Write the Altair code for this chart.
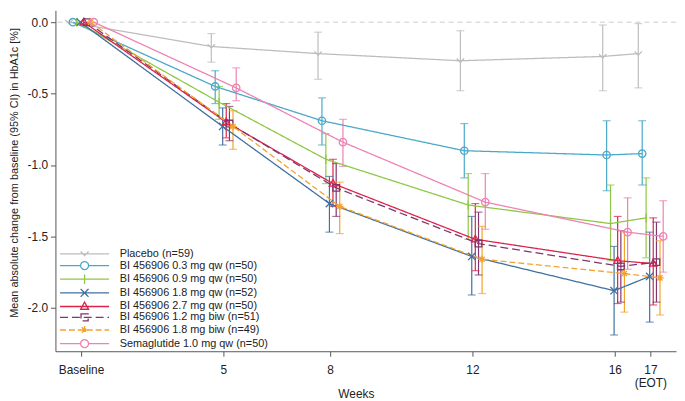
import json
import altair as alt
import pandas as pd

# ---------------- data ----------------
groups = [
    "Placebo (n=59)",
    "BI 456906 0.3 mg qw (n=50)",
    "BI 456906 0.9 mg qw (n=50)",
    "BI 456906 1.8 mg qw (n=52)",
    "BI 456906 2.7 mg qw (n=50)",
    "BI 456906 1.2 mg biw (n=51)",
    "BI 456906 1.8 mg biw (n=49)",
    "Semaglutide 1.0 mg qw (n=50)",
]
week_values = [1, 5, 8, 12, 16, 17]          # baseline shown at position 1 on the axis
week_labels = ["Baseline", "5", "8", "12", "16", "17\n(EOT)"]

placebo_mean = [0.0, -0.17, -0.22, -0.27, -0.24, -0.22]
placebo_lo = [None, -0.28, -0.40, -0.48, -0.48, -0.46]
placebo_hi = [None, -0.08, -0.07, -0.06, -0.02, -0.01]

q03_mean = [0.0, -0.45, -0.69, -0.90, -0.93, -0.92]
q03_lo = [None, -0.57, -0.86, -1.09, -1.18, -1.14]
q03_hi = [None, -0.34, -0.53, -0.71, -0.69, -0.69]

q09_mean = [0.0, -0.56, -0.96, -1.28, -1.41, -1.37]
q09_lo = [None, -0.68, -1.13, -1.52, -1.67, -1.65]
q09_hi = [None, -0.45, -0.78, -1.06, -1.14, -1.09]

q18_mean = [0.0, -0.73, -1.27, -1.64, -1.88, -1.78]
q18_lo = [None, -0.86, -1.47, -1.91, -2.19, -2.10]
q18_hi = [None, -0.60, -1.08, -1.36, -1.57, -1.47]

q27_mean = [0.0, -0.70, -1.13, -1.52, -1.67, -1.69]
q27_lo = [None, -0.81, -1.29, -1.74, -1.97, -1.98]
q27_hi = [None, -0.57, -0.96, -1.27, -1.36, -1.37]

b12_mean = [0.0, -0.71, -1.16, -1.55, -1.71, -1.68]
b12_lo = [None, -0.83, -1.36, -1.77, -1.96, -1.96]
b12_hi = [None, -0.59, -0.99, -1.33, -1.46, -1.40]

b18_mean = [0.0, -0.73, -1.29, -1.66, -1.76, -1.79]
b18_lo = [None, -0.89, -1.48, -1.90, -2.03, -2.05]
b18_hi = [None, -0.62, -1.12, -1.43, -1.47, -1.53]

sema_mean = [0.0, -0.46, -0.84, -1.26, -1.47, -1.50]
sema_lo = [None, -0.55, -1.01, -1.45, -1.73, -1.75]
sema_hi = [None, -0.32, -0.68, -1.06, -1.23, -1.25]

# ---------------- styles ----------------
means = [placebo_mean, q03_mean, q09_mean, q18_mean, q27_mean, b12_mean, b18_mean, sema_mean]
los = [placebo_lo, q03_lo, q09_lo, q18_lo, q27_lo, b12_lo, b18_lo, sema_lo]
his = [placebo_hi, q03_hi, q09_hi, q18_hi, q27_hi, b12_hi, b18_hi, sema_hi]

dodge = [-0.34, -0.23, -0.12, -0.02, 0.08, 0.17, 0.27, 0.36]
colors = ["#bdbdbd", "#4aa8c8", "#8fc744", "#40709e", "#dc2349", "#80356f", "#f4a22c", "#ee82b2"]
dashes = [[1, 0], [1, 0], [1, 0], [1, 0], [1, 0], [8, 4], [6, 3], [1, 0]]

circle = "M1,0A1,1,0,1,1,-1,0A1,1,0,1,1,1,0Z"
markers = [
    "M-1,-0.6L0,0.4L1,-0.6",
    circle,
    "M0,-1.2L0,1.2",
    "M-1,-1L1,1M-1,1L1,-1",
    "M0,-1.1L1,0.7L-1,0.7Z",
    "M-0.9,-0.9L0.9,-0.9L0.9,0.9L-0.9,0.9Z",
    "M-1,0L1,0M0,-1L0,1M-0.7,-0.7L0.7,0.7M-0.7,0.7L0.7,-0.7",
    circle,
]
legend_paths = []
for m in markers:
    if m == circle:
        legend_paths.append("M-6.2,0L-1,0M1,0L6.2,0" + m)
    else:
        legend_paths.append("M-6.2,0L6.2,0" + m)

rows = []
for gi, g in enumerate(groups):
    for wi, w in enumerate(week_values):
        rows.append({
            "group": g,
            "gid": gi,
            "x": w + dodge[gi],
            "mean": means[gi][wi],
            "lo": los[gi][wi],
            "hi": his[gi][wi],
            "mpath": markers[gi],
        })
df = pd.DataFrame(rows)
df_ci = df.dropna(subset=["lo", "hi"])
df_base = df[df["lo"].isna()][["group", "x", "mean"]]

FONT = "Liberation Sans"

# x-axis label expression built from the label list
expr = "datum.label"
for v, lab in zip(reversed(week_values), reversed(week_labels)):
    parts = lab.split("\n")
    val = json.dumps(parts) if len(parts) > 1 else json.dumps(parts[0])
    expr = f"datum.value == {v} ? {val} : ({expr})"

x_scale = alt.Scale(domain=[0.28, 17.72], nice=False, zero=False)
y_scale = alt.Scale(domain=[-2.304, 0.083], nice=False, zero=False)

x_axis = alt.Axis(values=week_values, labelExpr=expr, title="Weeks", grid=False,
                  labelFontSize=12, titleFontSize=12, titleFontWeight="normal",
                  labelFont=FONT, titleFont=FONT, labelColor="#222", titleColor="#222",
                  domainColor="#555", tickColor="#555", tickSize=5, labelPadding=9,
                  labelLineHeight=13, titleX=304, titleY=43, titleBaseline="middle",
                  labelFlush=False, labelOverlap=False)
y_axis = alt.Axis(values=[0, -0.5, -1.0, -1.5, -2.0],
                  labelExpr="replace(format(datum.value, '.1f'), '\u2212', '-')",
                  title="Mean absolute change from baseline (95% CI) in HbA1c [%]",
                  grid=False, labelFontSize=12, titleFontSize=11, titleFontWeight="normal",
                  labelFont=FONT, titleFont=FONT, labelColor="#222", titleColor="#222",
                  domainColor="#555", tickColor="#555", tickSize=5, labelPadding=3,
                  titlePadding=8, titleY=164)

color_scale = alt.Scale(domain=groups, range=colors)
dash_scale = alt.Scale(domain=groups, range=dashes)

X = alt.X("x:Q", scale=x_scale, axis=x_axis)
Y = alt.Y("mean:Q", scale=y_scale, axis=y_axis)

legend = alt.Legend(
    title=None, orient="none", legendX=24, legendY=241, padding=0,
    labelFont=FONT, labelFontSize=11, labelColor="#222", labelOffset=30,
    symbolSize=64, symbolStrokeWidth=1.3, symbolOpacity=1, symbolFillColor="transparent",
    rowPadding=-1.2, labelLimit=400,
)
# legend-only layer (first, so its legend settings win when merged)
legend_layer = alt.Chart(df_base).mark_point(filled=False, size=0, strokeWidth=1.3).encode(
    x=X, y=Y,
    color=alt.Color("group:N", scale=color_scale, legend=legend),
    shape=alt.Shape("group:N", scale=alt.Scale(domain=groups, range=legend_paths), legend=legend),
    strokeDash=alt.StrokeDash("group:N", scale=dash_scale, legend=legend),
)

zero_line = alt.Chart(pd.DataFrame({"y": [0.0]})).mark_rule(
    color="#cccccc", strokeDash=[5, 4], strokeWidth=1
).encode(y=alt.Y("y:Q", scale=y_scale, axis=y_axis))

ci_rule = alt.Chart(df_ci).mark_rule(strokeWidth=1.2).encode(
    x=X, y=alt.Y("lo:Q", scale=y_scale, axis=y_axis), y2="hi:Q",
    color=alt.Color("group:N", scale=color_scale),
)
# caps are filled rects: give them their own fill scale keyed by group index
fill_scale = alt.Scale(domain=list(range(len(groups))), range=colors)
cap_lo = alt.Chart(df_ci).mark_tick(orient="horizontal", size=8, thickness=1.2).encode(
    x=X, y=alt.Y("lo:Q", scale=y_scale, axis=y_axis),
    fill=alt.Fill("gid:O", scale=fill_scale, legend=None),
)
cap_hi = alt.Chart(df_ci).mark_tick(orient="horizontal", size=8, thickness=1.2).encode(
    x=X, y=alt.Y("hi:Q", scale=y_scale, axis=y_axis),
    fill=alt.Fill("gid:O", scale=fill_scale, legend=None),
)

lines = alt.Chart(df).mark_line(strokeWidth=1.3).encode(
    x=X, y=Y,
    color=alt.Color("group:N", scale=color_scale),
    strokeDash=alt.StrokeDash("group:N", scale=dash_scale),
    detail="group:N",
    order="x:Q",
)

points = alt.Chart(df).mark_point(filled=False, size=56, strokeWidth=1.3, opacity=1).encode(
    x=X, y=Y,
    color=alt.Color("group:N", scale=color_scale),
    shape=alt.Shape("mpath:N", scale=None),
)

chart = alt.layer(legend_layer, zero_line, ci_rule, cap_lo, cap_hi, lines, points).properties(
    width=628, height=345, padding={"left": 0, "top": 0, "right": 0, "bottom": 0},
    background="white",
).configure_view(stroke=None)

chart.save("out.html", embed_options={"renderer": "svg", "actions": False})
